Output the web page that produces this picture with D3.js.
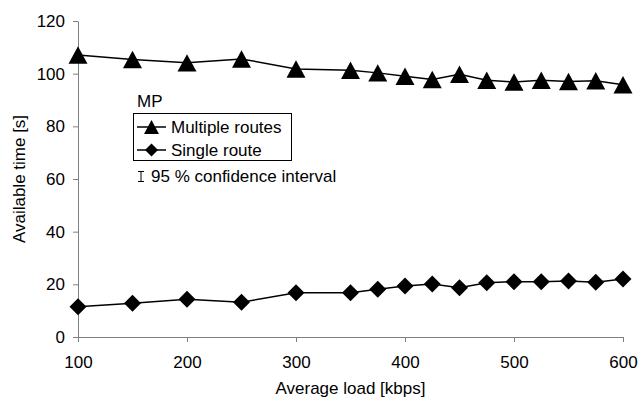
<!DOCTYPE html>
<html>
<head>
<meta charset="utf-8">
<script src="https://cdn.jsdelivr.net/npm/d3@7"></script>
<style>
  html, body { margin: 0; padding: 0; background: #fff; }
  svg { display: block; font-family: "Liberation Sans", Arial, sans-serif; }
</style>
</head>
<body>
<svg id="chart" width="639" height="397"></svg>
<script>
// Average load (kbps) at which each run was measured
const loads = [100, 150, 200, 250, 300, 350, 375, 400, 425, 450, 475, 500, 525, 550, 575, 600];
// Available time (s), multipath with multiple routes
const multipleRoutes = [107.1, 105.4, 104.1, 105.6, 101.8, 101.3, 100.3, 99.0, 97.8, 99.8, 97.5, 96.8, 97.5, 97.0, 97.3, 95.8];
// Available time (s), multipath restricted to a single route
const singleRoute = [11.5, 12.8, 14.3, 13.2, 16.8, 16.8, 18.1, 19.4, 20.1, 18.7, 20.6, 21.0, 21.0, 21.3, 20.8, 22.0];

const xTicks = [100, 200, 300, 400, 500, 600];
const yTicks = [0, 20, 40, 60, 80, 100, 120];

const seriesNames = ["Multiple routes", "Single route"];
const legendTitle = "MP";
const ciLabel = "95 % confidence interval";
const xLabel = "Average load [kbps]";
const yLabel = "Available time [s]";

const svg = d3.select("#chart");
const plot = { left: 78, right: 623, top: 21, bottom: 337 };
const axisColor = "#808080";
const fontSize = 17;

const x = d3.scaleLinear().domain([100, 600]).range([plot.left, plot.right]);
const y = d3.scaleLinear().domain([0, 120]).range([plot.bottom, plot.top]);

// Marker shapes: triangle centred on its bounding box, and a square diamond
const triangle = {
  draw(ctx, size) {
    const w = size / 2, h = size * 0.46;
    ctx.moveTo(0, -h);
    ctx.lineTo(w, h);
    ctx.lineTo(-w, h);
    ctx.closePath();
  }
};
const diamond = {
  draw(ctx, size) {
    const r = size / 2;
    ctx.moveTo(0, -r);
    ctx.lineTo(r, 0);
    ctx.lineTo(0, r);
    ctx.lineTo(-r, 0);
    ctx.closePath();
  }
};

// Axes
const xAxis = d3.axisBottom(x).tickValues(xTicks).tickSize(5).tickPadding(8).tickSizeOuter(0);
const yAxis = d3.axisLeft(y).tickValues(yTicks).tickSize(5).tickPadding(8).tickSizeOuter(0);

const gx = svg.append("g").attr("transform", `translate(0,${plot.bottom})`).call(xAxis);
const gy = svg.append("g").attr("transform", `translate(${plot.left},0)`).call(yAxis);

[gx, gy].forEach(g => {
  g.select(".domain").attr("stroke", axisColor).attr("stroke-width", 1);
  g.selectAll(".tick line").attr("stroke", axisColor).attr("stroke-width", 1);
  g.selectAll(".tick text")
    .attr("fill", "#000")
    .attr("font-size", fontSize)
    .attr("font-family", "Liberation Sans, Arial, sans-serif");
});
gx.selectAll(".tick text").attr("dy", "1.05em");

// Axis titles
svg.append("text")
  .attr("x", (plot.left + plot.right) / 2)
  .attr("y", 394)
  .attr("text-anchor", "middle")
  .attr("font-size", fontSize)
  .text(xLabel);

svg.append("text")
  .attr("transform", `translate(25,${(plot.top + plot.bottom) / 2}) rotate(-90)`)
  .attr("text-anchor", "middle")
  .attr("font-size", fontSize)
  .text(yLabel);

// Series
const series = [
  { name: seriesNames[0], values: multipleRoutes, shape: triangle, size: 19 },
  { name: seriesNames[1], values: singleRoute, shape: diamond, size: 17 }
];

const line = d3.line()
  .x((d, i) => x(loads[i]))
  .y(d => y(d));

series.forEach(s => {
  svg.append("path")
    .datum(s.values)
    .attr("fill", "none")
    .attr("stroke", "#000")
    .attr("stroke-width", 1.5)
    .attr("d", line);

  svg.append("g")
    .selectAll("path")
    .data(s.values)
    .join("path")
    .attr("transform", (d, i) => `translate(${x(loads[i])},${y(d)})`)
    .attr("d", d3.symbol().type(s.shape).size(s.size))
    .attr("fill", "#000");
});

// Legend
svg.append("text")
  .attr("x", 137)
  .attr("y", 107)
  .attr("font-size", fontSize)
  .text(legendTitle);

const legend = svg.append("g");
legend.append("rect")
  .attr("x", 133.5).attr("y", 113.5)
  .attr("width", 158).attr("height", 47)
  .attr("fill", "#fff")
  .attr("stroke", "#000")
  .attr("stroke-width", 1);

const rowY = [127, 150];
series.forEach((s, i) => {
  const row = legend.append("g").attr("transform", `translate(0,${rowY[i]})`);
  row.append("line")
    .attr("x1", 137).attr("x2", 166)
    .attr("stroke", "#000").attr("stroke-width", 1.5);
  row.append("path")
    .attr("transform", "translate(151.5,0)")
    .attr("d", d3.symbol().type(s.shape).size(s.size - 4))
    .attr("fill", "#000");
  row.append("text")
    .attr("x", 171)
    .attr("y", 6)
    .attr("font-size", fontSize)
    .text(s.name);
});

// Confidence interval key
const ci = svg.append("g").attr("transform", "translate(141,0)");
ci.append("path")
  .attr("d", "M-3,171.5H3M0,171.5V181.5M-3,181.5H3")
  .attr("stroke", "#000")
  .attr("stroke-width", 1)
  .attr("fill", "none");
svg.append("text")
  .attr("x", 151)
  .attr("y", 182)
  .attr("font-size", fontSize)
  .text(ciLabel);
</script>
</body>
</html>
